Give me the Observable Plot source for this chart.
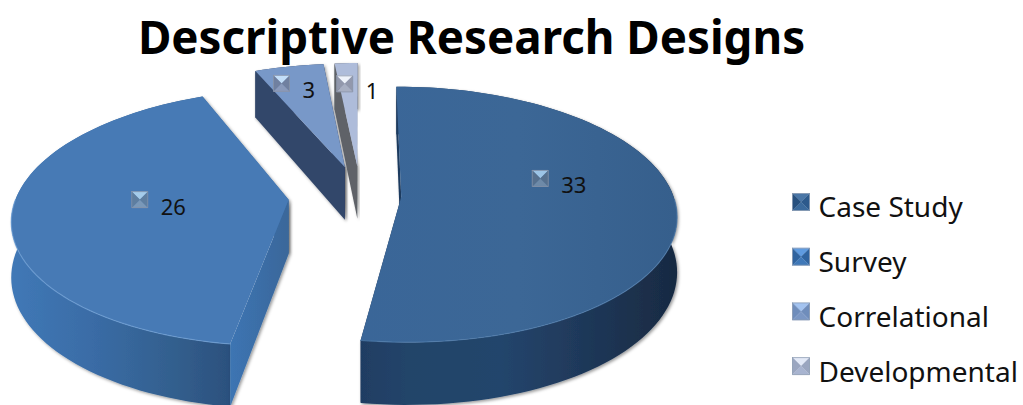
<!DOCTYPE html>
<html>
<head>
<meta charset="utf-8">
<script src="https://cdn.jsdelivr.net/npm/d3@7"></script>
<script src="https://cdn.jsdelivr.net/npm/@observablehq/plot@0.6"></script>
<style>
html,body{margin:0;padding:0;background:#fff;overflow:hidden}
svg{display:block}
</style>
</head>
<body>
<div id="chart"></div>
<script>
// ---- data ----
const chartTitle = "Descriptive Research Designs";
const categories = ["Case Study", "Survey", "Correlational", "Developmental"];
const values = [33, 26, 3, 1];

// ---- layout and style ----
const W = 1023, H = 405;
const explode = [0.15, 0.265, 0.24, 0.24];
const labelPolar = [[74, 0.545], [270, 0.545], [341, 0.835], [356, 0.78]];
const topFill = ["url(#top0)", "#477ab5", "#7898c8", "#aebcda"];
const wallFill = ["url(#wall0)", "url(#wall1)", "#33466a", "#5f6268"];
const nearFace = ["#1d3a5e", "url(#rad1)", "#33466a", "#5f6268"];
const hiddenFace = ["#17304f", "#3b6da6", "#33466a", "#5f6268"];
const iconLegend = [
  ["#4a76a6", "#2d5a8c", "#3b6a9c", "#27507e"],
  ["#5f9be0", "#2f639f", "#3f78b8", "#2f639f"],
  ["#a3c3f0", "#6f8dbb", "#7b97c4", "#6f8dbb"],
  ["#e2e9f7", "#9aa6c0", "#a8b4d0", "#9aa6c0"]
];
const iconLabel = [
  ["#9cc4e6", "#56708e", "#6e8aa8", "#56708e"],
  ["#a4cbea", "#5e7ea0", "#7a98b8", "#5e7ea0"],
  ["#c3def8", "#7080a0", "#8a9abb", "#7080a0"],
  ["#eef2fa", "#9298ac", "#a8afc2", "#9298ac"]
];
const cam = {vx: 360, vy: 195, rx: 272, ry: 125, k: 0.137, depth: 54};

// ---- perspective projection of the exploded pie ----
function project(X, Y, lift) {
  const s = 1 / (1 - cam.k * Y);
  return {x: cam.vx + cam.rx * X * s, y: cam.vy + cam.ry * Y * s + (lift ? cam.depth * s : 0)};
}
const total = d3.sum(values);
let acc = 0;
const slices = values.map((v, i) => {
  const a0 = acc / total * 360; acc += v;
  const a1 = acc / total * 360;
  const mid = (a0 + a1) / 2 * Math.PI / 180;
  return {i, a0, a1, v, ox: explode[i] * Math.sin(mid), oy: -explode[i] * Math.cos(mid)};
});
const ground = (sl, deg, r) => {
  const t = deg * Math.PI / 180;
  return [sl.ox + r * Math.sin(t), sl.oy - r * Math.cos(t)];
};
function arcSamples(sl) {
  const n = Math.max(2, Math.ceil((sl.a1 - sl.a0) / 2));
  return d3.range(n + 1).map(j => ground(sl, sl.a0 + (sl.a1 - sl.a0) * j / n, 1));
}
const pts = (list, lift) => list.map(([X, Y]) => project(X, Y, lift));
function poly(points, options) {
  return Plot.line(points, {x: "x", y: "y", stroke: "none", ...options});
}
function shadowed(points, fill) {
  return poly(points, {
    fill,
    render(index, scales, vals, dims, ctx, next) {
      const g = next(index, scales, vals, dims, ctx);
      g.setAttribute("filter", "url(#shadow)");
      return g;
    }
  });
}

const sliceMarks = [];
for (const i of [2, 3, 1, 0]) {
  const sl = slices[i];
  const arc = arcSamples(sl);
  const apex = [sl.ox, sl.oy];
  const first = arc[0], last = arc[arc.length - 1];
  const wall = [...pts(arc, false), ...pts(arc.slice().reverse(), true)];
  const faceA = [...pts([first, apex], false), ...pts([apex, first], true)];
  const faceB = [...pts([last, apex], false), ...pts([apex, last], true)];
  sliceMarks.push(shadowed(faceB, hiddenFace[i]));
  sliceMarks.push(shadowed(wall, wallFill[i]));
  sliceMarks.push(shadowed(faceA, nearFace[i]));
  sliceMarks.push(poly([...pts([apex], false), ...pts(arc, false)], {fill: topFill[i]}));
  if (i < 2) {
    // only the near part of the rim catches the light
    const rim = arc.filter(([X, Y]) => Y > sl.oy);
    sliceMarks.push(Plot.line(pts(rim, false), {
      x: "x", y: "y", stroke: i === 0 ? "#4f7cac" : "#6f9fd6", strokeWidth: 1.2, strokeOpacity: 0.7
    }));
  }
}

// ---- bevelled square markers ----
function iconMarks(cx, cy, size, colors, border) {
  const h = size / 2;
  const c = {x: cx, y: cy};
  const tl = {x: cx - h, y: cy - h}, tr = {x: cx + h, y: cy - h},
        br = {x: cx + h, y: cy + h}, bl = {x: cx - h, y: cy + h};
  const tris = [[tl, tr, c], [tr, br, c], [br, bl, c], [bl, tl, c]];
  const marks = tris.map((t, k) => poly(t, {fill: colors[k], stroke: colors[k], strokeWidth: 0.4}));
  marks.push(Plot.line([tl, tr, br, bl, tl], {x: "x", y: "y", stroke: border, strokeWidth: 1, strokeOpacity: 0.75}));
  return marks;
}

const labelData = slices.map(sl => {
  const [deg, r] = labelPolar[sl.i];
  const [X, Y] = ground(sl, deg, r);
  return {...project(X, Y, false), text: String(sl.v), i: sl.i};
});
const labelIconMarks = labelData.flatMap(d => iconMarks(d.x, d.y, 16, iconLabel[d.i], "#8a94a8"));

const legendRows = categories.map((name, i) => ({name, i, x: 818, y: 208 + i * 54.7}));
const legendIconMarks = legendRows.flatMap(d => iconMarks(800.5, d.y - 6.5, 17, iconLegend[d.i], "#8a9ab0"));

// ---- gradients / filters ----
function defs() {
  const ns = "http://www.w3.org/2000/svg";
  const el = document.createElementNS(ns, "defs");
  const grad = (id, x1, x2, stops) => {
    const g = document.createElementNS(ns, "linearGradient");
    g.setAttribute("id", id);
    g.setAttribute("gradientUnits", "userSpaceOnUse");
    g.setAttribute("x1", x1); g.setAttribute("x2", x2);
    g.setAttribute("y1", 0); g.setAttribute("y2", 0);
    for (const [o, c] of stops) {
      const s = document.createElementNS(ns, "stop");
      s.setAttribute("offset", o); s.setAttribute("stop-color", c);
      g.appendChild(s);
    }
    el.appendChild(g);
  };
  grad("wall0", 358, 676, [[0, "#1f3d63"], [0.15, "#234469"], [0.45, "#24456c"], [0.75, "#1e3656"], [1, "#182a42"]]);
  grad("wall1", 13, 235, [[0, "#4078b6"], [0.35, "#3a6ca6"], [0.7, "#33608f"], [1, "#2b4f7c"]]);
  grad("rad1", 232, 292, [[0, "#3c74b2"], [1, "#3a6698"]]);
  grad("top0", 360, 676, [[0, "#3a6698"], [0.5, "#3c6796"], [1, "#365f8c"]]);
  const f = document.createElementNS(ns, "filter");
  f.setAttribute("id", "shadow");
  f.setAttribute("x", "-10%"); f.setAttribute("y", "-10%");
  f.setAttribute("width", "120%"); f.setAttribute("height", "125%");
  const ds = document.createElementNS(ns, "feDropShadow");
  ds.setAttribute("dx", 1.5); ds.setAttribute("dy", 1.5);
  ds.setAttribute("stdDeviation", 1.5);
  ds.setAttribute("flood-color", "#000"); ds.setAttribute("flood-opacity", 0.4);
  f.appendChild(ds);
  el.appendChild(f);
  return el;
}

const font = "'Noto Sans', 'Noto Sans CJK KR', sans-serif";
const chart = Plot.plot({
  width: W, height: H,
  margin: 0,
  x: {domain: [0, W], range: [0, W], axis: null},
  y: {domain: [0, H], range: [0, H], axis: null},
  style: {background: "#fff", fontFamily: font},
  marks: [
    defs,
    ...sliceMarks,
    ...labelIconMarks,
    ...legendIconMarks,
    Plot.text(labelData, {
      x: "x", y: "y", text: "text", dx: 21, dy: 8,
      textAnchor: "start", fontSize: 22, fill: "#111", fontFamily: font
    }),
    Plot.text(legendRows, {
      x: "x", y: "y", text: "name", textAnchor: "start",
      fontSize: 28, fill: "#111", fontFamily: font, lineAnchor: "middle"
    }),
    Plot.text([chartTitle], {
      x: () => 471, y: () => 39, text: d => d, textAnchor: "middle",
      fontSize: 45.7, fontWeight: 700, fill: "#000", fontFamily: font
    })
  ]
});
document.getElementById("chart").appendChild(chart);
</script>
</body>
</html>
